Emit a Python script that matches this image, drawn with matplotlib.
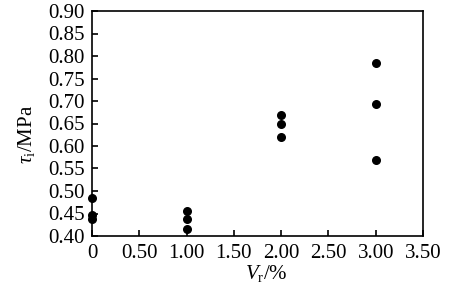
import matplotlib
matplotlib.use("Agg")
import matplotlib.pyplot as plt

plt.rcParams['font.family'] = ['Liberation Serif', 'DejaVu Serif']
plt.rcParams['mathtext.fontset'] = 'custom'
plt.rcParams['mathtext.rm'] = 'Liberation Serif'
plt.rcParams['mathtext.it'] = 'Liberation Serif:italic'

vr = [0, 0, 0, 1, 1, 1, 2, 2, 2, 3, 3, 3]
tau = [0.484, 0.447, 0.437, 0.456, 0.437, 0.416, 0.670, 0.648, 0.619, 0.784, 0.693, 0.569]
xticks = [0, 0.5, 1.0, 1.5, 2.0, 2.5, 3.0, 3.5]
xticklabels = ['0', '0.50', '1.00', '1.50', '2.00', '2.50', '3.00', '3.50']
yticks = [0.40, 0.45, 0.50, 0.55, 0.60, 0.65, 0.70, 0.75, 0.80, 0.85, 0.90]

fig = plt.figure(figsize=(4.72, 2.91), dpi=100)
ax = fig.add_axes([92/472, 1 - 236/291, (423 - 92)/472, (236 - 11)/291])
ax.scatter(vr, tau, s=30, color='black', zorder=3, clip_on=False)
ax.set_xlim(0, 3.5)
ax.set_ylim(0.40, 0.90)
ax.set_xticks(xticks)
ax.set_xticklabels(xticklabels)
ax.set_yticks(yticks)
ax.set_yticklabels([f'{v:.2f}' for v in yticks])
ax.tick_params(direction='in', length=4, width=1.2, labelsize=15, pad=5)
ax.tick_params(axis='x', pad=6)
for s in ax.spines.values():
    s.set_linewidth(1.2)
ax.set_xlabel(r'$\mathit{V}_{\mathrm{r}}$/%', fontsize=15)
ax.set_ylabel(r'$\mathit{\tau}_{\mathrm{i}}$/MPa', fontsize=15)
ax.xaxis.set_label_coords(0.526, -0.118, transform=ax.transAxes)
ax.yaxis.set_label_coords(-0.165, 0.45, transform=ax.transAxes)
fig.savefig('out.png', dpi=100)
